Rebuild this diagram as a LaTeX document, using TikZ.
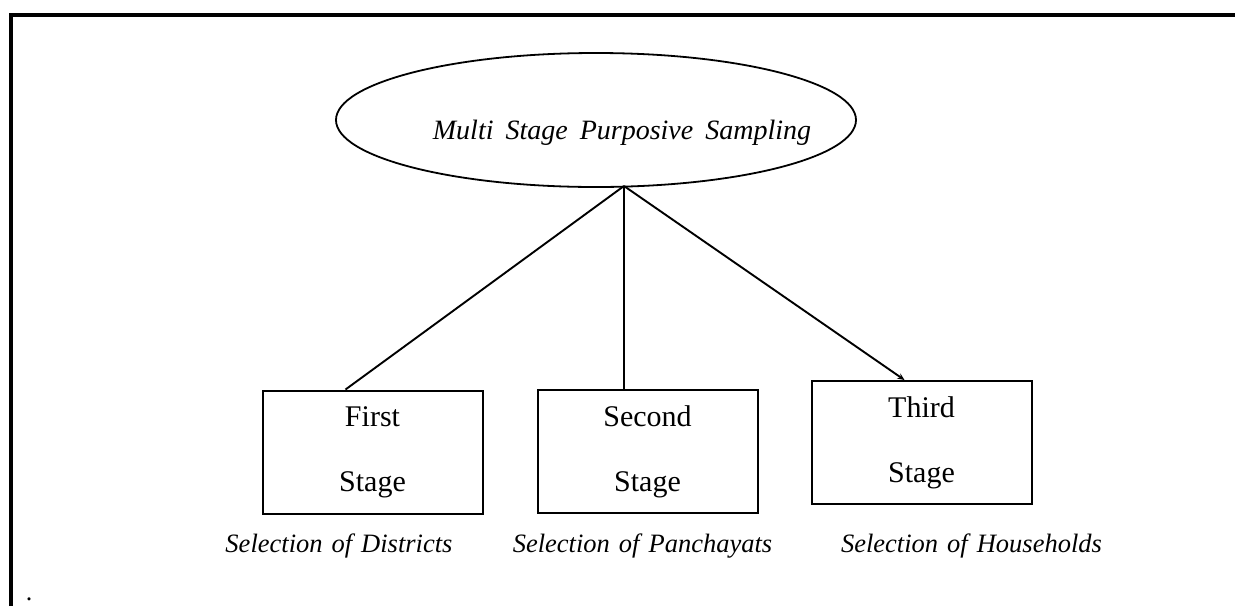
\documentclass[tikz,border=0pt]{standalone}
\usepackage{fontspec}
\setmainfont{Liberation Serif}
\usetikzlibrary{shapes.geometric,arrows.meta,calc}
\begin{document}
\begin{tikzpicture}[x=1pt,y=-1pt,
  frameline/.style={line width=4pt},
  oval/.style={draw,ellipse,line width=1.8pt,minimum width=520pt,minimum height=134pt,inner sep=0pt},
  stagebox/.style={draw,rectangle,line width=2pt,minimum width=220pt,minimum height=123pt,inner sep=0pt,align=center,font=\fontsize{30}{65}\selectfont},
  captext/.style={anchor=base,inner sep=0pt,font={\fontsize{26.5}{30}\selectfont\itshape\spaceskip=9pt plus 2pt}},
  titletext/.style={anchor=base,inner sep=0pt,font={\fontsize{28}{32}\selectfont\itshape\spaceskip=12pt plus 2pt}},
  link/.style={line width=1.9pt}]
\useasboundingbox (0,0) rectangle (1235,606);
\draw[frameline] (11,606) -- (11,15) -- (1235,15);
\node[oval] (e) at (596,120) {};
\node[titletext] (t) at (622,139) {Multi Stage Purposive Sampling};
\coordinate (apex) at (624,186);
\node[stagebox] (b1) at (372.5,452) {First\\Stage};
\node[stagebox] (b2) at (647.5,451.5) {Second\\Stage};
\node[stagebox] (b3) at (921.5,442.5) {Third\\Stage};
\draw[link] (apex) -- ($(b1.north west)+(84,0)$);
\draw[link] (apex) -- (b2.north -| apex);
\draw[link,-{Stealth[length=7pt,width=6pt]}] (apex) -- ($(b3.north west)+(94,0)$);
\node[captext] (c1) at (339,552) {Selection of Districts};
\node[captext] (c2) at (642.5,552) {Selection of Panchayats};
\node[captext] (c3) at (971.5,552) {Selection of Households};
\node[inner sep=0pt,font=\fontsize{26}{26}\selectfont] (dot) at (29,599) {.};
\end{tikzpicture}
\end{document}
